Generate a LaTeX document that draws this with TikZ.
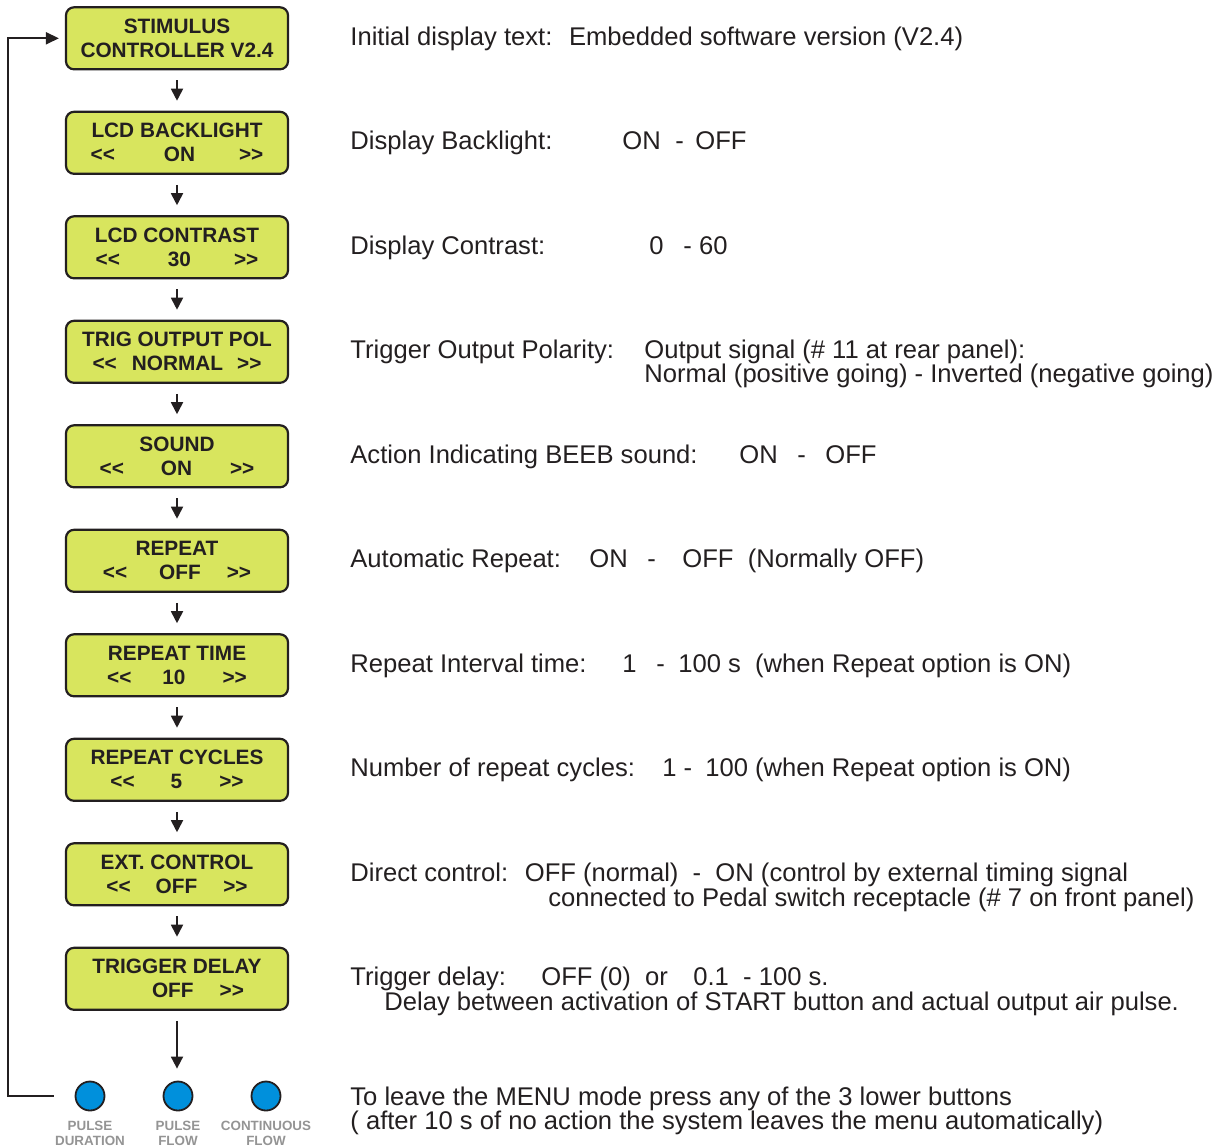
\documentclass[tikz,border=0pt]{standalone}
\usepackage{fontspec}
\setmainfont{Liberation Sans}
\usetikzlibrary{arrows.meta,positioning}
\definecolor{Ink}{HTML}{231F20}
\definecolor{LcdGreen}{HTML}{D8E55E}
\definecolor{BtnBlue}{HTML}{0090DC}
\definecolor{BtnGray}{HTML}{949494}
\newcommand{\lr}[3]{<{}<\hspace{#1}#2\hspace{#3}>{}>}
\newcommand{\tb}[2]{\makebox[#1][l]{#2}}
\tikzset{
  lcdbox/.style={draw=Ink,line width=1.1pt,rounded corners=4pt,fill=LcdGreen,minimum width=111pt,minimum height=31pt,inner sep=0pt,align=center,text=Ink,font=\bfseries\fontsize{10.4}{12}\selectfont},
  btn/.style={circle,draw=Ink,line width=0.9pt,fill=BtnBlue,minimum size=14.5pt,inner sep=0pt},
  btnlabel/.style={inner sep=0pt,align=center,text=BtnGray,font=\bfseries\fontsize{6.7}{7.5}\selectfont},
  desc/.style={anchor=base west,inner sep=0pt,text=Ink,font=\fontsize{12.8}{15}\selectfont},
  arrow/.style={-{Triangle[length=6pt,width=6pt]},line width=0.9pt,draw=Ink}
}
\begin{document}
\begin{tikzpicture}[x=0.5pt,y=-0.5pt]
\useasboundingbox (0,0) rectangle (1224,1146);
% menu screens
\foreach \i/\top/\bot in {1/{STIMULUS}/{CONTROLLER V2.4},
  2/{LCD BACKLIGHT}/{\lr{24.5pt}{ON}{22pt}},
  3/{LCD CONTRAST}/{\lr{24pt}{30}{21.5pt}},
  4/{TRIG OUTPUT POL}/{\lr{7.5pt}{NORMAL}{7pt}},
  5/{SOUND}/{\lr{18.5pt}{ON}{19pt}},
  6/{REPEAT}/{\lr{16pt}{OFF}{13pt}},
  7/{REPEAT TIME}/{\lr{15.5pt}{10}{18.5pt}},
  8/{REPEAT CYCLES}/{\lr{18pt}{5}{18.5pt}},
  9/{EXT. CONTROL}/{\lr{12.5pt}{OFF}{13pt}},
  10/{TRIGGER DELAY}/{\hspace*{21pt}OFF\hspace{13pt}>{}>}}
  \node[lcdbox] (b\i) at (177,{38.3+104.5*(\i-1)}) {\top\\\bot};
\foreach \i in {1,...,9}{
  \pgfmathtruncatemacro{\j}{\i+1}
  \draw[arrow] ([yshift=-5pt]b\i.south) -- ([yshift=5pt]b\j.north);
}
% buttons
\node[btn] (c1) at (90,1096) {};
\node[btn] (c2) at (178,1096) {};
\node[btn] (c3) at (266,1096) {};
\node[btnlabel,below=4.5pt of c1] (l1) {PULSE\\DURATION};
\node[btnlabel,below=4.5pt of c2] (l2) {PULSE\\FLOW};
\node[btnlabel,below=4.5pt of c3] (l3) {CONTINUOUS\\FLOW};
\draw[arrow] ([yshift=-5pt]b10.south) -- ([yshift=6pt]b10.south |- c2.north);
\coordinate (lft) at (8,1096);
\draw[arrow,-{Triangle[length=6.5pt,width=6pt]}] ([xshift=-10.5pt]c1.west) -- (lft) |- ([xshift=-3pt]b1.west);
% descriptions
\node[desc] (d1) at (350,45) {Initial display text:~ Embedded software version (V2.4)};
\node[desc] (d2) at (350,149.5) {\tb{136pt}{Display Backlight:}\tb{26.5pt}{ON}\tb{10pt}{-}OFF};
\node[desc] (d3) at (350,254) {\tb{149.5pt}{Display Contrast:}\tb{17pt}{0}- 60};
\node[desc] (d4) at (350,358.5) {\tb{147pt}{Trigger Output Polarity:}Output signal (\# 11 at rear panel):};
\node[desc] (d4b) at (644,382.5) {Normal (positive going) - Inverted (negative going)};
\node[desc] (d5) at (350,463) {\tb{194.5pt}{Action Indicating BEEB sound:}\tb{29pt}{ON}\tb{14pt}{-}OFF};
\node[desc] (d6) at (350,567.5) {\tb{119.5pt}{Automatic Repeat:}\tb{29pt}{ON}\tb{17.5pt}{-}OFF~ (Normally OFF)};
\node[desc] (d7) at (350,672) {\tb{136pt}{Repeat Interval time:}\tb{17pt}{1}\tb{11pt}{-}100 s~ (when Repeat option is ON)};
\node[desc] (d8) at (350,776.5) {\tb{156pt}{Number of repeat cycles:}\tb{21.5pt}{1 -}100 (when Repeat option is ON)};
\node[desc] (d9) at (350,881) {Direct control:~ OFF (normal)~ -~ ON (control by external timing signal};
\node[desc] (d9b) at (548,906) {connected to Pedal switch receptacle (\# 7 on front panel)};
\node[desc] (d10) at (350,985.5) {\tb{95.5pt}{Trigger delay:}\tb{76pt}{OFF (0)~ or}0.1~ - 100 s.};
\node[desc] (d10b) at (384,1010.5) {Delay between activation of START button and actual output air pulse.};
\node[desc] (d11) at (350,1105) {To leave the MENU mode press any of the 3 lower buttons};
\node[desc] (d11b) at (350,1129) {( after 10 s of no action the system leaves the menu automatically)};
\end{tikzpicture}
\end{document}
